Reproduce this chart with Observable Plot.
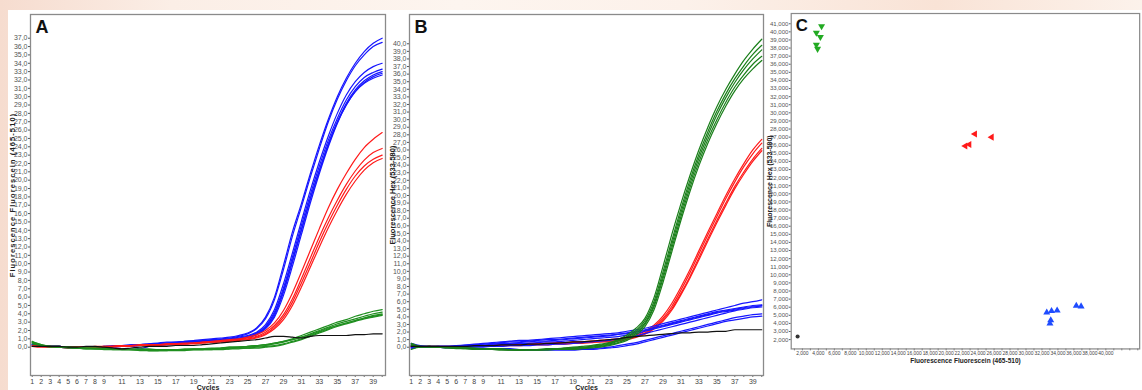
<!DOCTYPE html>
<html><head><meta charset="utf-8">
<script src="https://cdn.jsdelivr.net/npm/d3@7"></script>
<script src="https://cdn.jsdelivr.net/npm/@observablehq/plot@0.6"></script>
<style>
html,body{margin:0;padding:0;}
body{width:1142px;height:390px;overflow:hidden;position:relative;
 background:linear-gradient(90deg,#f6dccf 0%,#fbeee6 15%,#fdf5ef 40%,#fcf1ea 60%,#f9e3d6 82%,#fcf2eb 100%);
 font-family:"Liberation Sans",Arial,sans-serif;}
#paper{position:absolute;left:8px;top:10px;right:0;bottom:0;background:#fff;}
.panel{position:absolute;top:0;}
.panel svg{overflow:visible;}
.spaced text{letter-spacing:1.1px;}
</style></head><body>
<div id="paper"></div>
<div id="pa" class="panel" style="left:0px"></div>
<div id="pb" class="panel" style="left:380px"></div>
<div id="pc" class="panel" style="left:760px"></div>
<script>
// ---------- shared ----------
const cycles = [1,2,3,4,5,6,7,8,9,10,11,12,13,14,15,16,17,18,19,20,21,22,23,24,25,26,27,28,29,30,31,32,33,34,35,36,37,38,39,40];
const cycleLabels = [1,2,3,4,5,6,7,8,9,11,13,15,17,19,21,23,25,27,29,31,33,35,37,39];

// ---------- Panel A : Fluorescein (465-510) ----------
const aBlue = [
 [0.4,0.2,0.1,0.1,0.0,0.0,0.0,0.0,0.1,0.2,0.2,0.3,0.3,0.4,0.5,0.6,0.6,0.7,0.8,0.9,1.0,1.1,1.2,1.4,1.7,2.3,3.6,6.0,9.8,13.8,17.2,20.8,24.2,27.3,30.0,32.2,34.0,35.4,36.4,37.0],
 [0.3,0.2,0.1,0.1,0.0,0.0,-0.1,0.0,0.0,0.1,0.2,0.2,0.3,0.4,0.4,0.5,0.6,0.7,0.7,0.8,0.9,1.0,1.1,1.3,1.6,2.2,3.4,5.7,9.3,13.3,16.8,20.4,23.8,27.0,29.7,31.9,33.7,35.0,36.0,36.5],
 [0.3,0.1,0.1,0.1,0.0,0.0,0.0,-0.1,0.0,0.1,0.1,0.2,0.3,0.3,0.4,0.5,0.5,0.6,0.7,0.8,0.8,0.9,1.0,1.2,1.4,1.8,2.7,4.5,7.6,11.3,15.1,18.8,22.2,25.3,28.0,30.2,31.8,32.9,33.6,34.0],
 [0.2,0.1,0.1,0.0,0.0,-0.1,0.0,0.0,0.1,0.1,0.2,0.2,0.3,0.3,0.4,0.4,0.5,0.6,0.6,0.7,0.8,0.9,1.0,1.1,1.3,1.7,2.5,4.2,7.1,10.8,14.6,18.3,21.7,24.8,27.4,29.6,31.2,32.3,32.9,33.3],
 [0.1,0.1,0.0,0.0,-0.1,-0.1,-0.1,0.0,0.0,0.1,0.1,0.1,0.2,0.2,0.3,0.3,0.4,0.5,0.5,0.6,0.7,0.8,0.9,1.0,1.2,1.5,2.3,3.8,6.6,10.2,14.0,17.8,21.2,24.4,27.0,29.2,30.8,31.9,32.6,33.0],
 [0.2,0.1,0.1,0.1,0.0,0.0,0.0,0.0,0.0,0.0,0.1,0.1,-0.2,0.1,0.2,0.3,0.4,0.4,0.5,0.6,0.7,0.7,0.8,1.0,1.2,1.5,2.2,3.6,6.2,9.7,13.5,17.3,20.8,24.0,26.8,29.0,30.6,31.7,32.4,32.8],
 [0.3,0.2,0.1,0.1,0.0,0.0,-0.1,-0.1,0.0,0.0,0.1,0.1,0.2,0.2,0.3,0.4,0.4,0.5,0.6,0.7,0.7,0.8,0.9,1.0,1.2,1.6,2.4,4.0,6.8,10.4,14.1,17.8,21.1,24.2,26.9,29.0,30.6,31.6,32.2,32.6]
];
const aRed = [
 [0.2,0.1,0.1,0.1,0.0,0.0,0.0,0.0,0.1,0.1,0.2,0.2,0.3,0.3,0.3,0.4,0.4,0.5,0.5,0.6,0.7,0.8,0.9,1.0,1.2,1.5,2.0,2.9,4.4,6.5,9.0,11.6,14.2,16.7,18.9,20.8,22.5,23.9,24.9,25.7],
 [0.1,0.1,0.0,0.0,0.0,0.0,0.0,0.1,0.1,0.1,0.2,0.2,0.2,0.3,0.3,0.4,0.4,0.4,0.5,0.6,0.6,0.7,0.8,0.9,1.1,1.3,1.8,2.6,3.9,5.8,8.2,10.7,13.2,15.5,17.6,19.5,21.1,22.4,23.3,23.8],
 [0.1,0.0,0.0,0.0,-0.1,0.0,0.0,0.0,0.0,0.1,0.1,0.2,0.2,0.2,0.3,0.3,0.4,0.4,0.5,0.5,0.6,0.7,0.8,0.9,1.0,1.2,1.6,2.4,3.6,5.4,7.7,10.1,12.6,14.9,17.0,18.9,20.5,21.7,22.5,23.0],
 [0.2,0.1,0.1,0.0,0.0,0.0,-0.1,0.0,0.0,0.0,0.1,0.1,0.2,0.2,0.2,0.3,0.3,0.4,0.4,0.5,0.6,0.6,0.7,0.8,0.9,1.1,1.5,2.2,3.3,5.0,7.2,9.6,12.0,14.3,16.4,18.3,19.9,21.2,22.1,22.6]
];
const aGreen = [
 [0.7,0.3,0.1,0.1,0.0,-0.1,-0.1,-0.2,-0.2,-0.2,-0.2,-0.3,-0.3,-0.3,-0.3,-0.3,-0.3,-0.3,-0.2,-0.2,-0.2,-0.1,0.0,0.0,0.1,0.2,0.3,0.5,0.7,1.0,1.4,1.8,2.2,2.6,3.0,3.3,3.7,4.0,4.3,4.5],
 [0.6,0.2,0.1,0.0,0.0,-0.1,-0.1,-0.1,-0.2,-0.2,-0.3,-0.3,-0.3,-0.4,-0.4,-0.3,-0.3,-0.3,-0.3,-0.3,-0.2,-0.2,-0.1,0.0,0.0,0.1,0.2,0.4,0.6,0.9,1.2,1.6,2.0,2.4,2.8,3.1,3.4,3.7,4.0,4.2],
 [0.5,0.2,0.1,0.0,0.0,-0.1,-0.2,-0.2,-0.2,-0.3,-0.3,-0.3,-0.4,-0.4,-0.4,-0.4,-0.4,-0.4,-0.3,-0.3,-0.3,-0.3,-0.2,-0.1,-0.1,0.0,0.1,0.2,0.4,0.7,1.0,1.4,1.8,2.2,2.6,2.9,3.2,3.5,3.8,4.0],
 [0.6,0.3,0.1,0.1,0.0,0.0,-0.1,-0.1,-0.1,-0.2,-0.2,-0.2,-0.2,-0.2,-0.3,-0.3,-0.3,-0.2,-0.2,-0.2,-0.1,-0.1,0.0,0.0,0.1,0.2,0.3,0.5,0.7,0.9,1.2,1.5,1.9,2.3,2.6,2.9,3.2,3.5,3.7,3.9],
 [0.4,0.2,0.0,0.0,-0.1,-0.1,-0.2,-0.2,-0.3,-0.3,-0.3,-0.3,-0.3,-0.4,-0.4,-0.4,-0.3,-0.3,-0.3,-0.3,-0.3,-0.2,-0.2,-0.2,-0.1,-0.1,0.0,0.1,0.3,0.6,0.9,1.3,1.7,2.1,2.5,2.8,3.1,3.4,3.6,3.8]
];
const aBlack = [
 [0.1,0.1,0.1,0.1,0.0,0.0,0.1,0.1,0.0,-0.1,-0.2,-0.1,0.0,0.1,0.1,0.1,0.2,0.2,0.2,0.3,0.4,0.5,0.6,0.7,0.8,0.9,1.1,1.3,1.3,1.2,1.1,1.3,1.4,1.4,1.4,1.4,1.5,1.5,1.6,1.6]
];
const aYTicks = [0,1,2,3,4,5,6,7,8,9,10,11,12,13,14,15,16,17,18,19,20,21,22,23,24,25,26,27,28,29,30,31,32,33,34,35,36,37];

// ---------- Panel B : Hex (533-580) ----------
const bGreen = [
 [0.3,0.0,0.1,0.1,0.0,0.0,-0.1,-0.2,-0.2,-0.3,-0.3,-0.3,-0.3,-0.3,-0.3,-0.2,-0.2,-0.1,0.0,0.1,0.2,0.4,0.6,1.0,1.6,2.5,3.8,6.5,10.6,14.9,18.9,22.6,26.0,29.0,31.7,34.0,36.0,37.8,39.3,40.6],
 [0.4,0.1,0.1,0.0,0.0,-0.1,-0.1,-0.2,-0.3,-0.3,-0.3,-0.4,-0.4,-0.3,-0.3,-0.3,-0.2,-0.2,-0.1,0.0,0.1,0.3,0.5,0.9,1.4,2.2,3.5,6.0,9.9,14.1,18.2,22.0,25.4,28.4,31.1,33.4,35.4,37.1,38.6,39.8],
 [0.5,0.1,0.0,0.0,-0.1,-0.1,-0.2,-0.2,-0.2,-0.3,-0.3,-0.3,-0.4,-0.4,-0.4,-0.3,-0.3,-0.2,-0.2,-0.1,0.0,0.2,0.4,0.8,1.3,2.0,3.2,5.6,9.4,13.6,17.7,21.5,24.9,27.9,30.6,32.9,34.9,36.6,38.0,39.2],
 [0.2,0.0,0.1,0.0,0.0,-0.1,-0.1,-0.1,-0.2,-0.2,-0.2,-0.3,-0.3,-0.3,-0.3,-0.3,-0.2,-0.2,-0.1,-0.1,0.0,0.1,0.3,0.6,1.1,1.8,3.0,5.3,9.0,13.1,17.2,21.0,24.4,27.4,30.0,32.3,34.3,35.9,37.3,38.35],
 [-0.3,0.0,0.0,0.0,-0.1,-0.2,-0.2,-0.3,-0.3,-0.3,-0.4,-0.4,-0.4,-0.4,-0.4,-0.4,-0.3,-0.3,-0.3,-0.2,-0.1,0.0,0.2,0.5,0.9,1.6,2.7,4.9,8.5,12.6,16.7,20.5,23.9,26.9,29.5,31.8,33.8,35.4,36.7,37.8]
];
const bRed = [
 [0.2,0.1,0.1,0.1,0.1,0.1,0.2,0.2,0.2,0.3,0.3,0.4,0.4,0.5,0.5,0.5,0.6,0.6,0.7,0.7,0.8,0.9,1.0,1.1,1.3,1.6,2.1,2.9,4.1,5.8,7.9,10.2,12.7,15.2,17.6,20.0,22.2,24.2,26.0,27.4],
 [0.1,0.1,0.1,0.1,0.0,0.1,0.1,0.2,0.2,0.2,0.3,0.3,0.4,0.4,0.4,0.5,0.5,0.6,0.6,0.7,0.7,0.8,0.9,1.0,1.2,1.5,1.9,2.7,3.8,5.4,7.5,9.8,12.3,14.8,17.2,19.6,21.8,23.8,25.5,26.9],
 [0.0,0.0,0.1,0.0,0.0,0.0,0.1,0.1,0.1,0.2,0.2,0.3,0.3,0.3,0.4,0.4,0.5,0.5,0.5,0.6,0.7,0.7,0.8,0.9,1.1,1.4,1.8,2.5,3.6,5.1,7.1,9.3,11.8,14.3,16.7,19.0,21.2,23.1,24.8,26.2],
 [0.1,0.0,0.1,0.0,0.0,0.0,0.0,0.1,0.1,0.1,0.2,0.2,0.2,0.3,0.3,0.3,0.4,0.4,0.5,0.5,0.6,0.7,0.7,0.8,1.0,1.3,1.7,2.4,3.4,4.9,6.9,9.1,11.5,14.0,16.4,18.7,20.9,22.8,24.5,25.9]
];
const bBlue = [
 [0.5,0.2,0.1,0.1,0.1,0.2,0.3,0.4,0.5,0.6,0.7,0.8,0.9,0.9,1.0,1.1,1.2,1.3,1.4,1.5,1.6,1.7,1.8,1.9,2.1,2.3,2.5,2.8,3.1,3.4,3.7,4.0,4.3,4.6,4.9,5.2,5.5,5.8,6.0,6.25],
 [0.3,0.1,0.1,0.1,0.1,0.2,0.2,0.3,0.4,0.5,0.6,0.7,0.7,0.8,0.9,1.0,1.0,1.1,1.2,1.3,1.4,1.5,1.6,1.7,1.9,2.1,2.3,2.6,2.9,3.2,3.5,3.8,4.1,4.4,4.7,4.9,5.1,5.3,5.5,5.6],
 [0.2,0.1,0.0,0.1,0.1,0.1,0.2,0.3,0.3,0.4,0.5,0.5,0.6,0.7,0.8,0.8,0.9,1.0,1.1,1.2,1.3,1.4,1.5,1.7,1.8,2.0,2.2,2.5,2.8,3.1,3.4,3.7,4.0,4.3,4.6,4.8,5.0,5.2,5.4,5.5],
 [0.1,0.0,0.0,0.0,0.0,0.1,0.1,0.2,0.2,0.3,0.3,0.4,0.5,0.5,0.6,0.7,0.7,0.8,0.9,1.0,1.1,1.2,1.3,1.4,1.6,1.8,2.1,2.4,2.7,3.0,3.3,3.6,3.9,4.2,4.5,4.7,4.9,5.1,5.3,5.45],
 [0.0,0.0,0.0,0.0,0.0,0.0,0.0,0.1,0.1,0.1,0.1,0.2,0.2,0.2,0.3,0.3,0.4,0.4,0.5,0.6,0.7,0.8,0.9,1.1,1.3,1.5,1.8,2.1,2.4,2.7,3.0,3.3,3.6,3.9,4.2,4.5,4.8,5.0,5.2,5.3],
 [-0.1,0.0,0.0,0.0,0.0,0.0,-0.1,-0.1,-0.1,-0.2,-0.2,-0.2,-0.3,-0.3,-0.3,-0.3,-0.3,-0.3,-0.3,-0.2,-0.2,-0.1,0.0,0.2,0.4,0.6,0.9,1.2,1.5,1.8,2.1,2.4,2.7,3.0,3.3,3.6,3.9,4.1,4.3,4.4],
 [-0.2,0.0,0.0,0.0,-0.1,-0.1,-0.1,-0.2,-0.2,-0.3,-0.3,-0.3,-0.4,-0.4,-0.4,-0.4,-0.4,-0.4,-0.4,-0.3,-0.3,-0.2,-0.1,0.0,0.2,0.4,0.7,1.0,1.3,1.6,1.9,2.2,2.5,2.8,3.1,3.4,3.6,3.8,4.0,4.1]
];
const bBlack = [
 [0.1,0.1,0.1,0.1,0.1,0.1,0.1,0.2,0.2,0.2,0.3,0.3,0.3,0.4,0.4,0.5,0.5,0.6,0.7,0.7,0.8,0.9,1.0,1.1,1.3,1.4,1.5,1.6,1.7,1.8,1.9,1.9,2.0,2.0,2.1,2.1,2.3,2.3,2.3,2.3]
];
const bYTicks = [0,1,2,3,4,5,6,7,8,9,10,11,12,13,14,15,16,17,18,19,20,21,22,23,24,25,26,27,28,29,30,31,32,33,34,35,36,37,38,39,40];

// ---------- Panel C : end-point scatter ----------
const cGreenX = [4400,3750,4250,3750,3900];
const cGreenY = [40700,39900,39360,38400,37900];
const cRedX = [23600,25700,22400,22900];
const cRedY = [27400,27000,25900,26100];
const cBlueX = [32600,33200,33100,33000,33900,36300,36900];
const cBlueY = [5340,5530,4380,3990,5600,6180,6100];
const cBlackX = [1400];
const cBlackY = [2380];
const cXTicks = [2000,4000,6000,8000,10000,12000,14000,16000,18000,20000,22000,24000,26000,28000,30000,32000,34000,36000,38000,40000];
const cYTicks = [2000,3000,4000,5000,6000,7000,8000,9000,10000,11000,12000,13000,14000,15000,16000,17000,18000,19000,20000,21000,22000,23000,24000,25000,26000,27000,28000,29000,30000,31000,32000,33000,34000,35000,36000,37000,38000,39000,40000,41000];

// ---------- helpers ----------
const tickFont = "'Liberation Sans Narrow','Arial Narrow',sans-serif";
const labFont = "'Liberation Sans',Arial,sans-serif";
function rows(list){ return list.flatMap((vals,k)=>vals.map((v,i)=>({cycle:cycles[i], value:v, k}))); }
function pts(xs, ys){ return xs.map((x,i)=>({x, y:ys[i]})); }
const dec = d => d.toFixed(1).replace(".", ",");

function curvePanel(o){
  const lines = o.groups.map(g => Plot.line(rows(g.data), {x:"cycle", y:"value", z:"k", stroke:g.color, strokeWidth:1.2, curve:"monotone-x"}));
  return Plot.plot({
    width:o.width, height:390,
    marginLeft:o.ml, marginRight:o.mr, marginTop:14, marginBottom:15,
    style:{fontFamily:tickFont, fontSize:"7px", background:"transparent", overflow:"visible"},
    x:{domain:o.xDomain},
    y:{domain:o.yDomain},
    marks:[
      Plot.axisY({ticks:o.yTicks, tickFormat:dec, tickSize:2, tickPadding:1, color:"#555", label:null, fontSize:7}),
      Plot.axisX({ticks:cycles, tickFormat:()=>"", tickSize:2, color:"#666", label:null}),
      Plot.axisX({ticks:cycleLabels, tickSize:0, tickPadding:4, color:"#444", label:null, fontSize:7}),
      ...lines,
      Plot.frame({stroke:"#8a8a8a", strokeWidth:1.3}),
      Plot.text([o.letter], {frameAnchor:"top-left", dx:5, dy:6, lineAnchor:"top", fontSize:18, fontWeight:"bold", fill:"#111", fontFamily:labFont}),
      Plot.text([o.yLabel], {frameAnchor:"left", dx:o.ydx, rotate:-90, textAnchor:"middle", lineAnchor:"middle", fontSize:7.5, fontWeight:"bold", fill:"#222", fontFamily:labFont, className:o.spaced ? "spaced" : undefined}),
      Plot.text(["Cycles"], {frameAnchor:"bottom", dy:12, lineAnchor:"middle", fontSize:7, fontWeight:"bold", fill:"#222", fontFamily:labFont})
    ]
  });
}

document.getElementById("pa").append(curvePanel({
  width:393, ml:30, mr:8, xDomain:[0.81,40.37], yDomain:[-3.39,39.84], yTicks:aYTicks,
  letter:"A", yLabel:"Fluorescence Fluorescein (465-510)", ydx:-17.7, spaced:true,
  groups:[{data:aBlue,color:"#1616ff"},{data:aRed,color:"#ff1a1a"},{data:aGreen,color:"#1f8f1f"},{data:aBlack,color:"#111"}]
}));

document.getElementById("pb").append(curvePanel({
  width:393, ml:29, mr:10, xDomain:[0.81,40.19], yDomain:[-3.73,43.86], yTicks:bYTicks,
  letter:"B", yLabel:"Fluorescence Hex (533-580)", ydx:-17, spaced:false,
  groups:[{data:bRed,color:"#ff1a1a"},{data:bBlue,color:"#1616ff"},{data:bGreen,color:"#1a7f1a"},{data:bBlack,color:"#111"}]
}));

const fmt = d3.format(",");
const cPlot = Plot.plot({
  width:410, height:390, marginLeft:33, marginRight:3, marginTop:14, marginBottom:16,
  style:{fontFamily:tickFont, fontSize:"7px", background:"transparent", overflow:"visible"},
  x:{domain:[600,44235]},
  y:{domain:[850,42265]},
  marks:[
    Plot.axisY({ticks:cYTicks, tickFormat:fmt, tickSize:2, tickPadding:1, color:"#555", label:null, fontSize:6.5}),
    Plot.axisX({ticks:d3.range(1000,44001,1000), tickFormat:()=>"", tickSize:2, color:"#666", label:null}),
    Plot.axisX({ticks:cXTicks, tickFormat:fmt, tickSize:0, tickPadding:3, color:"#444", label:null, fontSize:5.3}),
    Plot.frame({stroke:"#8a8a8a", strokeWidth:1.3}),
    Plot.dot(pts(cGreenX,cGreenY), {x:"x", y:"y", symbol:"triangle", rotate:180, r:2.8, fill:"#22aa22"}),
    Plot.dot(pts(cRedX,cRedY), {x:"x", y:"y", symbol:"triangle", rotate:-90, r:2.8, fill:"#ff1a1a"}),
    Plot.dot(pts(cBlueX,cBlueY), {x:"x", y:"y", symbol:"triangle", r:2.8, fill:"#1f4cff"}),
    Plot.dot(pts(cBlackX,cBlackY), {x:"x", y:"y", symbol:"circle", r:2.2, fill:"#333"}),
    Plot.text(["C"], {frameAnchor:"top-left", dx:5, dy:6, lineAnchor:"top", fontSize:18, fontWeight:"bold", fill:"#111", fontFamily:labFont}),
    Plot.text(["Fluorescence Hex (533-580)"], {frameAnchor:"left", dx:-23, rotate:-90, textAnchor:"middle", lineAnchor:"middle", fontSize:7.5, fontWeight:"bold", fill:"#222", fontFamily:labFont}),
    Plot.text(["Fluorescence Fluorescein (465-510)"], {frameAnchor:"bottom", dy:13, lineAnchor:"middle", fontSize:7, fontWeight:"bold", fill:"#222", fontFamily:labFont})
  ]
});
document.getElementById("pc").append(cPlot);
</script></body></html>
